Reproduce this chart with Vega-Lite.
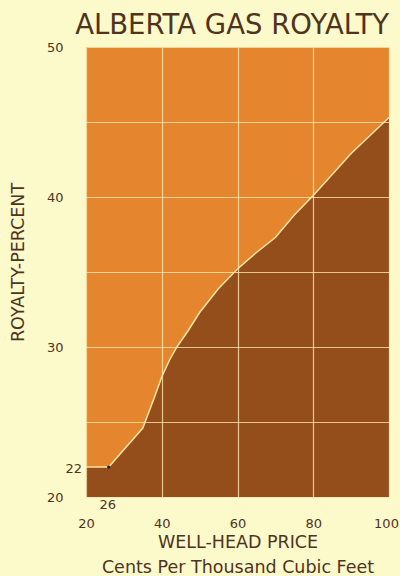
{
  "$schema": "https://vega.github.io/schema/vega-lite/v6.json",
  "width": 303,
  "height": 450,
  "autosize": {"type": "none"},
  "padding": {"left": 86, "top": 47, "right": 11, "bottom": 79},
  "background": "#fcf9ca",
  "title": {
    "text": "ALBERTA GAS ROYALTY",
    "anchor": "end",
    "frame": "group",
    "fontSize": 27.5,
    "font": "DejaVu Sans",
    "fontWeight": "normal",
    "color": "#4f331c",
    "offset": 12,
    "baseline": "alphabetic",
    "dy": 32
  },
  "config": {
    "view": {"fill": "#e5862e", "stroke": null},
    "font": "DejaVu Sans"
  },
  "datasets": {
    "curve": [
      {"price": 20, "royalty": 22},
      {"price": 26, "royalty": 22},
      {"price": 35, "royalty": 24.6},
      {"price": 38, "royalty": 26.6},
      {"price": 40, "royalty": 28},
      {"price": 42, "royalty": 29.1},
      {"price": 44, "royalty": 30},
      {"price": 47, "royalty": 31.1},
      {"price": 50, "royalty": 32.3},
      {"price": 55, "royalty": 33.9},
      {"price": 60, "royalty": 35.2},
      {"price": 65, "royalty": 36.3},
      {"price": 70, "royalty": 37.3},
      {"price": 75, "royalty": 38.8},
      {"price": 80, "royalty": 40.1},
      {"price": 90, "royalty": 42.9},
      {"price": 100, "royalty": 45.3}
    ],
    "notes": [
      {"price": 20, "royalty": 22, "label": "22", "kind": "left"},
      {"price": 26, "royalty": 20, "label": "26", "kind": "below"}
    ],
    "dot": [{"price": 26, "royalty": 22}]
  },
  "layer": [
    {
      "data": {"name": "curve"},
      "mark": {
        "type": "area",
        "color": "#944e1c",
        "opacity": 1,
        "line": {"color": "#fbe4a6", "strokeWidth": 1.5}
      },
      "encoding": {
        "x": {
          "field": "price",
          "type": "quantitative",
          "scale": {"domain": [20, 100], "nice": false},
          "axis": {
            "values": [20, 30, 40, 50, 60, 70, 80, 90, 100],
            "labelExpr": "datum.value % 20 === 0 ? datum.label : ''",
            "labelFlush": false,
            "labelOverlap": false,
            "labelOffset": {"condition": {"test": "datum.value === 100", "value": -3}, "value": 0},
            "domain": false,
            "ticks": false,
            "tickSize": 0,
            "labelPadding": 20,
            "labelFontSize": 13,
            "labelColor": "#4f331c",
            "grid": true,
            "gridColor": "#fbe6ae",
            "gridOpacity": 0.8,
            "gridWidth": 1.2,
            "zindex": 1,
            "title": ["WELL-HEAD PRICE", "Cents Per Thousand Cubic Feet"],
            "titleFontSize": 17.5,
            "titleFontWeight": "normal",
            "titleColor": "#4f331c",
            "titleLineHeight": 25,
            "titleBaseline": "alphabetic",
            "titleY": 50
          }
        },
        "y": {
          "field": "royalty",
          "type": "quantitative",
          "scale": {"domain": [20, 50], "nice": false, "zero": false},
          "axis": {
            "values": [20, 25, 30, 35, 40, 45, 50],
            "labelExpr": "datum.value % 10 === 0 ? datum.label : ''",
            "labelFlush": false,
            "labelOverlap": false,
            "domain": false,
            "ticks": false,
            "tickSize": 0,
            "labelPadding": 23,
            "labelFontSize": 13,
            "labelColor": "#4f331c",
            "grid": true,
            "gridColor": "#fbe6ae",
            "gridOpacity": 0.8,
            "gridWidth": 1.2,
            "zindex": 1,
            "title": "ROYALTY-PERCENT",
            "titleFontSize": 17.5,
            "titleFontWeight": "normal",
            "titleColor": "#4f331c",
            "titleX": -68,
            "titleY": 215,
            "titleAngle": 270,
            "titleAlign": "center",
            "titleBaseline": "middle"
          }
        },
        "y2": {"datum": 20}
      }
    },
    {
      "data": {"name": "dot"},
      "mark": {"type": "point", "filled": true, "color": "#2b1a0c", "size": 10, "opacity": 1},
      "encoding": {
        "x": {"field": "price", "type": "quantitative"},
        "y": {"field": "royalty", "type": "quantitative"}
      }
    },
    {
      "data": {"name": "notes"},
      "transform": [{"filter": "datum.kind === 'left'"}],
      "mark": {"type": "text", "align": "right", "baseline": "middle", "dx": -4, "dy": 2, "fontSize": 13, "color": "#4f331c"},
      "encoding": {
        "x": {"field": "price", "type": "quantitative"},
        "y": {"field": "royalty", "type": "quantitative"},
        "text": {"field": "label"}
      }
    },
    {
      "data": {"name": "notes"},
      "transform": [{"filter": "datum.kind === 'below'"}],
      "mark": {"type": "text", "align": "center", "baseline": "middle", "dx": -1, "dy": 8, "fontSize": 13, "color": "#4f331c"},
      "encoding": {
        "x": {"field": "price", "type": "quantitative"},
        "y": {"field": "royalty", "type": "quantitative"},
        "text": {"field": "label"}
      }
    }
  ]
}
